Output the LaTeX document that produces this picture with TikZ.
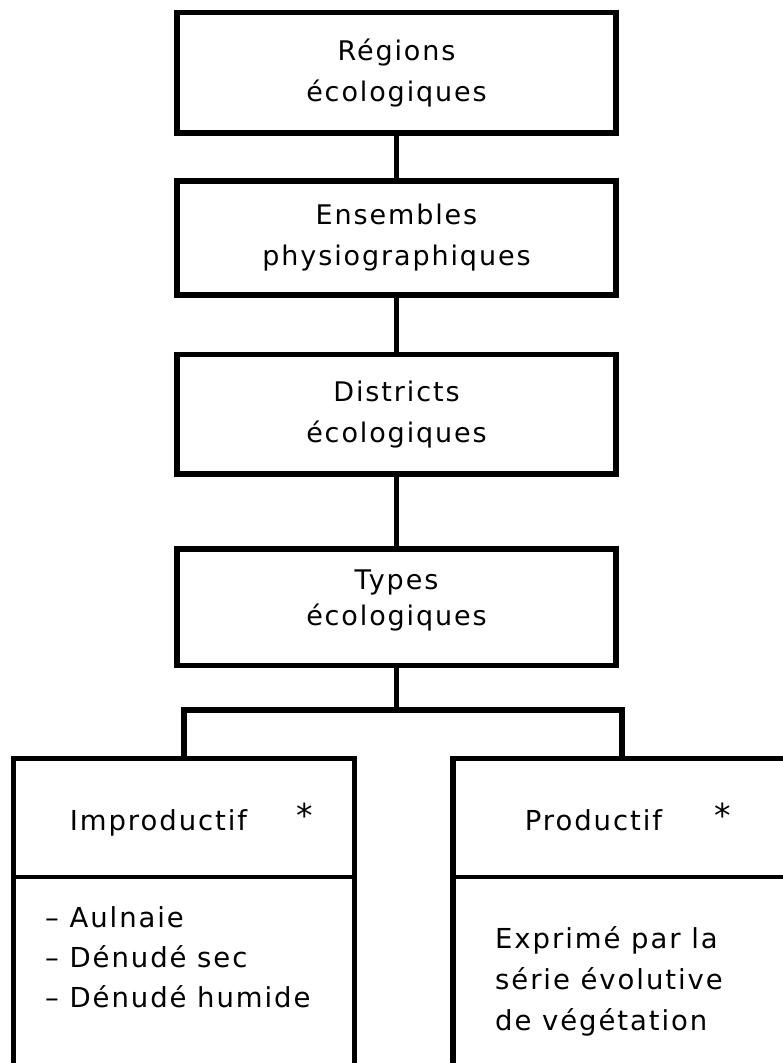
\documentclass[tikz,border=0pt]{standalone}
\usepackage{fontspec}
\setmainfont{DejaVu Sans}
\newfontfamily\niveaufont{DejaVu Sans}[LetterSpace=7]
\newfontfamily\blocfont{DejaVu Sans}[LetterSpace=7]
\usetikzlibrary{positioning}

\tikzset{
  niveau/.style={draw,line width=5.5pt,minimum width=439pt,inner sep=0pt,align=center,
    font=\niveaufont\fontsize{27}{41}\selectfont},
  lien/.style={line width=5.5pt},
  bloc/.style={line width=5.5pt},
  separation/.style={line width=4.5pt},
  texte/.style={inner sep=0pt,font=\blocfont\fontsize{27.5}{41}\selectfont},
  etoile/.style={inner sep=0pt,font=\blocfont\fontsize{33}{33}\selectfont}
}

\begin{document}
\begin{tikzpicture}[x=1pt,y=-1pt]
\useasboundingbox (0,0) rectangle (783,1063);
% niveaux de la hierarchie
\node[niveau,minimum height=120.5pt] (reg) at (396.5,72.75) {Régions\\écologiques};
\node[niveau,minimum height=114pt] (ens) at (396.5,238) {Ensembles\\physiographiques};
\node[niveau,minimum height=119.5pt] (dis) at (396.5,414.25) {Districts\\écologiques};
\node[niveau,minimum height=116.5pt,text depth=19pt] (typ) at (396.5,607.25) {Types\\[-5pt]écologiques};
\draw[lien] (reg) -- (ens);
\draw[lien] (ens) -- (dis);
\draw[lien] (dis) -- (typ);

% deux blocs du bas (ouverts en bas et a droite)
\coordinate (improdtop) at (184,758.5);
\coordinate (prodtop) at (622,758.5);
\coordinate (fourche) at (396.5,710);
\draw[bloc] (13.3,1070) -- (13.3,758.5) -- (354.5,758.5) -- (354.5,1070);
\draw[separation] (13.3,877) -- (354.5,877);
\draw[bloc] (453,1070) -- (453,758.5) -- (790,758.5);
\draw[separation] (453,877) -- (790,877);
\draw[lien] (typ.south) -- (fourche);
\draw[lien] (improdtop) |- (fourche) -| (prodtop);

\node[texte,anchor=base] (improd) at (158.5,830) {Improductif};
\node[etoile] (improdast) at (305,815) {*};
\node[texte,anchor=base] (prod) at (593.5,830) {Productif};
\node[etoile] (prodast) at (723,815) {*};
\node[texte,anchor=base west] (aulnaie) at (45,927) {– Aulnaie};
\node[texte,anchor=base west] (sec) at (45,967) {– Dénudé sec};
\node[texte,anchor=base west] (humide) at (45,1007) {– Dénudé humide};
\node[texte,anchor=base west] (exprime) at (495,948) {Exprimé par la};
\node[texte,anchor=base west] (serie) at (495,989) {série évolutive};
\node[texte,anchor=base west] (vegetation) at (495,1030) {de végétation};
\end{tikzpicture}
\end{document}
